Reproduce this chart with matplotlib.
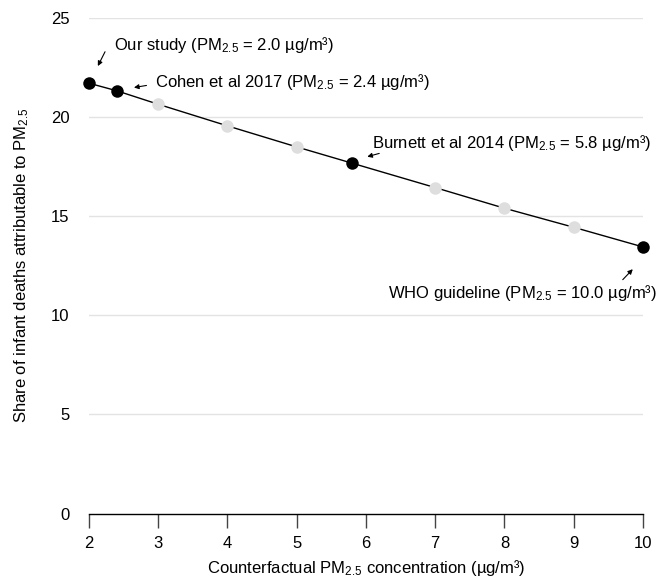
import matplotlib
matplotlib.use("Agg")
import matplotlib.pyplot as plt

plt.rcParams['font.family'] = ['Liberation Sans', 'DejaVu Sans']
plt.rcParams['mathtext.fontset'] = 'custom'
plt.rcParams['mathtext.rm'] = 'Liberation Sans'
plt.rcParams['mathtext.it'] = 'Liberation Sans'

# Curve values
line_x = [2.0, 2.4, 3, 4, 5, 5.8, 7, 8, 9, 10]
line_y = [21.69, 21.31, 20.63, 19.54, 18.48, 17.66, 16.43, 15.39, 14.43, 13.44]

# Grey intermediate points
grey_x = [3, 4, 5, 7, 8, 9]
grey_y = [20.63, 19.54, 18.48, 16.43, 15.39, 14.43]

# Highlighted points
key_x = [2.0, 2.4, 5.8, 10.0]
key_y = [21.69, 21.31, 17.66, 13.44]
key_labels = [
    r'Our study (PM$_{2.5}$ = 2.0 µg/m³)',
    r'Cohen et al 2017 (PM$_{2.5}$ = 2.4 µg/m³)',
    r'Burnett et al 2014 (PM$_{2.5}$ = 5.8 µg/m³)',
    r'WHO guideline (PM$_{2.5}$ = 10.0 µg/m³)',
]

x_ticks = [2, 3, 4, 5, 6, 7, 8, 9, 10]
y_ticks = [0, 5, 10, 15, 20, 25]

fig = plt.figure(figsize=(6.62, 5.88), dpi=100)
ax = fig.add_axes([0.1344, 0.1264, 0.9713 - 0.1344, 0.9702 - 0.1264])

ax.set_xlim(2, 10)
ax.set_ylim(0, 25)

for yt in y_ticks[1:]:
    ax.axhline(yt, color='#e3e3e3', lw=1.0, zorder=0)

ax.plot(line_x, line_y, color='black', lw=1.0, zorder=2, clip_on=False)
ax.plot(grey_x, grey_y, 'o', color='#dedede', ms=9, mec='none', zorder=3, clip_on=False)
ax.plot(key_x, key_y, 'o', color='black', ms=9, mec='none', zorder=4, clip_on=False)

fs = 12
arrowprops = dict(arrowstyle='-|>', color='black', lw=0.8, mutation_scale=7)

ax.annotate('', xy=(2.11, 22.43), xytext=(2.25, 23.4), arrowprops=arrowprops)
ax.text(2.36, 23.6, key_labels[0], fontsize=fs, va='center', ha='left')

ax.annotate('', xy=(2.61, 21.45), xytext=(2.87, 21.6), arrowprops=arrowprops)
ax.text(2.96, 21.77, key_labels[1], fontsize=fs, va='center', ha='left')

ax.annotate('', xy=(5.98, 17.95), xytext=(6.23, 18.19), arrowprops=arrowprops)
ax.text(6.08, 18.7, key_labels[2], fontsize=fs, va='center', ha='left')

ax.annotate('', xy=(9.88, 12.42), xytext=(9.68, 11.69), arrowprops=arrowprops)
ax.text(10.2, 11.12, key_labels[3], fontsize=fs, va='center', ha='right')

for s in ['top', 'right', 'left']:
    ax.spines[s].set_visible(False)
ax.spines['bottom'].set_linewidth(1.0)
ax.spines['bottom'].set_color('black')

ax.set_xticks(x_ticks)
ax.set_yticks(y_ticks)
ax.tick_params(axis='x', length=10, width=1.0, color='#444444', pad=6, labelsize=fs)
ax.tick_params(axis='y', length=0, pad=14, labelsize=fs)

ax.set_xlabel(r'Counterfactual PM$_{2.5}$ concentration (µg/m³)', fontsize=fs, labelpad=5)
ax.set_ylabel(r'Share of infant deaths attributable to PM$_{2.5}$', fontsize=fs, labelpad=14)

fig.savefig('out.png', dpi=100)
